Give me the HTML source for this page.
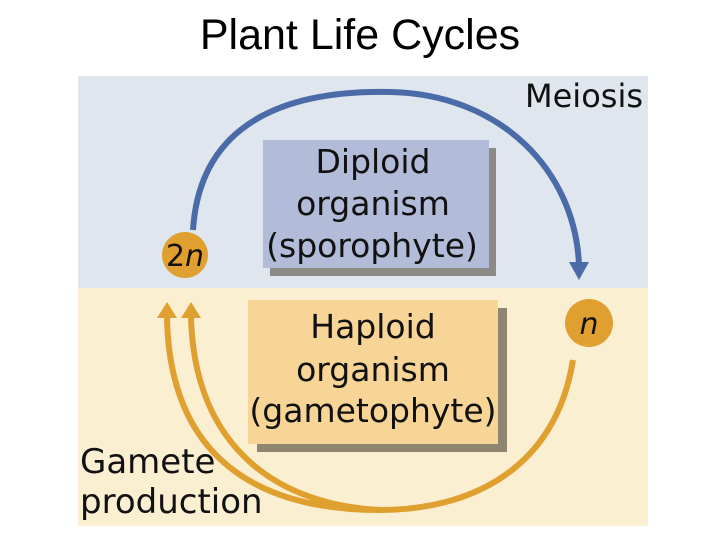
<!DOCTYPE html>
<html><head><style>
body{margin:0;width:720px;height:540px;background:#fff;position:relative;overflow:hidden;font-family:"Liberation Sans",sans-serif}
.t{position:absolute;left:0;width:720px;top:10px;text-align:center;font-size:43px;line-height:50px;color:#000}
</style></head><body>
<div class="t">Plant Life Cycles</div>
<svg width="720" height="540" style="position:absolute;left:0;top:0">
<rect x="78" y="76" width="570" height="212" fill="#dfe6ee"/>
<rect x="78" y="288" width="570" height="238" fill="#fbefd2"/>
<rect x="270" y="148" width="226" height="128" fill="#8c8a84"/>
<rect x="263" y="140" width="226" height="128" fill="#b2bcd8"/>
<rect x="257" y="308" width="250" height="144" fill="#8f8670"/>
<rect x="248" y="300" width="250" height="144" fill="#f7d596"/>
<g font-family="'DejaVu Sans',sans-serif" font-size="33" fill="#111" text-anchor="middle">
<text x="373" y="173">Diploid</text>
<text x="373" y="215">organism</text>
<text x="372" y="257">(sporophyte)</text>
<text x="373" y="338">Haploid</text>
<text x="373" y="381">organism</text>
<text x="373" y="422">(gametophyte)</text>
<text x="584" y="107" font-size="32">Meiosis</text>
<text x="80" y="473" text-anchor="start" font-size="34">Gamete</text>
<text x="80" y="513" text-anchor="start" font-size="34">production</text>
</g>
<path d="M193,230 C200,120 290,90 390,92 C500,94 575,170 579,265" fill="none" stroke="#4a6aa8" stroke-width="6"/>
<path d="M569,262 L579,280 L589,262 z" fill="#4a6aa8"/>
<path d="M573,360 C555,470 470,510 380,510 C260,510 170,460 167,318" fill="none" stroke="#e0a030" stroke-width="6"/>
<path d="M380,510 C280,505 195,450 191,318" fill="none" stroke="#e0a030" stroke-width="6"/>
<path d="M157,318 L167,302 L177,318 z" fill="#e0a030"/>
<path d="M181,318 L191,302 L201,318 z" fill="#e0a030"/>
<circle cx="185" cy="255" r="23" fill="#e0a030"/>
<text x="185" y="266" font-family="'DejaVu Sans',sans-serif" font-size="30" text-anchor="middle" fill="#111">2<tspan font-style="italic">n</tspan></text>
<circle cx="589" cy="323" r="24" fill="#e0a030"/>
<text x="589" y="334" font-family="'DejaVu Sans',sans-serif" font-size="30" font-style="italic" text-anchor="middle" fill="#111">n</text>
</svg>
</body></html>
